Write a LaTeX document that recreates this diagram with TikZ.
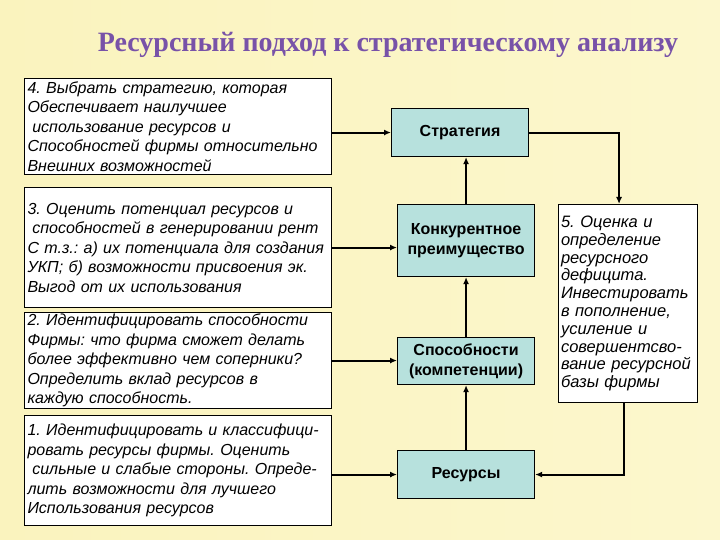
\documentclass[tikz,border=0pt]{standalone}
\usepackage{fontspec}
\setmainfont{Liberation Sans}
\newfontfamily\titlefont{Liberation Serif}
\usetikzlibrary{arrows.meta}
\frenchspacing
\definecolor{bgL}{RGB}{250,243,190}
\definecolor{bgM}{RGB}{255,253,228}
\definecolor{bgR}{RGB}{252,247,205}
\definecolor{titlecol}{RGB}{120,82,168}
\definecolor{teal}{RGB}{183,225,221}
\tikzset{
  lbox/.style={draw, line width=1.1pt, fill=white, anchor=north west,
    minimum width=307pt, text width=301pt, inner xsep=3pt, inner ysep=0pt,
    align=left, font=\fontsize{16}{19.5}\selectfont\itshape\frenchspacing},
  rbox/.style={draw, line width=1.1pt, fill=white, anchor=north west,
    minimum width=139pt, text width=134pt, inner xsep=2.5pt, inner ysep=0pt,
    minimum height=198pt, align=left, font=\fontsize{16.5}{17.8}\selectfont\itshape\frenchspacing},
  cbox/.style={draw, line width=1.1pt, fill=teal, anchor=north west,
    minimum width=137pt, inner sep=0pt, align=center,
    font=\fontsize{16}{20}\selectfont\bfseries},
  arr/.style={line width=2pt, -{Latex[length=7pt,width=6pt]}}
}
\begin{document}
\begin{tikzpicture}[x=1pt,y=-1pt]
\shade[left color=bgL, middle color=bgM, right color=bgR] (0,0) rectangle (720,540);
\useasboundingbox (0,0) rectangle (720,540);
\node[font=\titlefont\bfseries\fontsize{28}{32}\selectfont, text=titlecol] (title) at (388,45) {Ресурсный подход к стратегическому анализу};

\node[lbox, minimum height=96pt] (b4) at (24,78) {4. Выбрать стратегию, которая\\Обеспечивает наилучшее\\\hspace{0.3em}использование ресурсов и\\Способностей фирмы относительно\\Внешних возможностей};
\node[lbox, minimum height=120pt] (b3) at (24,187) {3. Оценить потенциал ресурсов и\\\hspace{0.3em}способностей в генерировании рент\\С т.з.: а) их потенциала для создания\\УКП; б) возможности присвоения эк.\\Выгод от их использования};
\node[lbox, minimum height=96pt] (b2) at (24,312) {2. Идентифицировать способности\\Фирмы: что фирма сможет делать\\более эффективно чем соперники?\\Определить вклад ресурсов в\\каждую способность.};
\node[lbox, minimum height=110pt] (b1) at (24,415) {1. Идентифицировать и классифици-\\ровать ресурсы фирмы. Оценить\\\hspace{0.3em}сильные и слабые стороны. Опреде-\\лить возможности для лучшего\\Использования ресурсов};

\node[cbox, minimum height=48pt] (s) at (391,108) {Стратегия};
\node[cbox, minimum height=72pt] (k) at (397,204) {Конкурентное\\преимущество};
\node[cbox, minimum height=47pt] (c) at (397,337) {Способности\\(компетенции)};
\node[cbox, minimum height=48pt] (r) at (397,450) {Ресурсы};

\node[rbox] (b5) at (558,204) {5. Оценка и\\определение\\ресурсного\\дефицита.\\Инвестировать\\в пополнение,\\усиление и\\совершентсво-\\вание ресурсной\\базы фирмы};

\draw[arr] (b4.east |- s.west) -- (s.west);
\draw[arr] (b3.east) -- (b3.east -| k.west);
\draw[arr] (b2.east) -- (b2.east -| c.west);
\draw[arr] (b1.east |- r.west) -- (r.west);

\draw[arr] (r.north) -- (r.north |- c.south);
\draw[arr] (c.north) -- (c.north |- k.south);
\draw[arr] (k.north) -- (k.north |- s.south);

\draw[arr] (s.east) -| ([xshift=-9pt]b5.north);
\draw[arr] ([xshift=-4pt]b5.south) |- (r.east);
\end{tikzpicture}
\end{document}
